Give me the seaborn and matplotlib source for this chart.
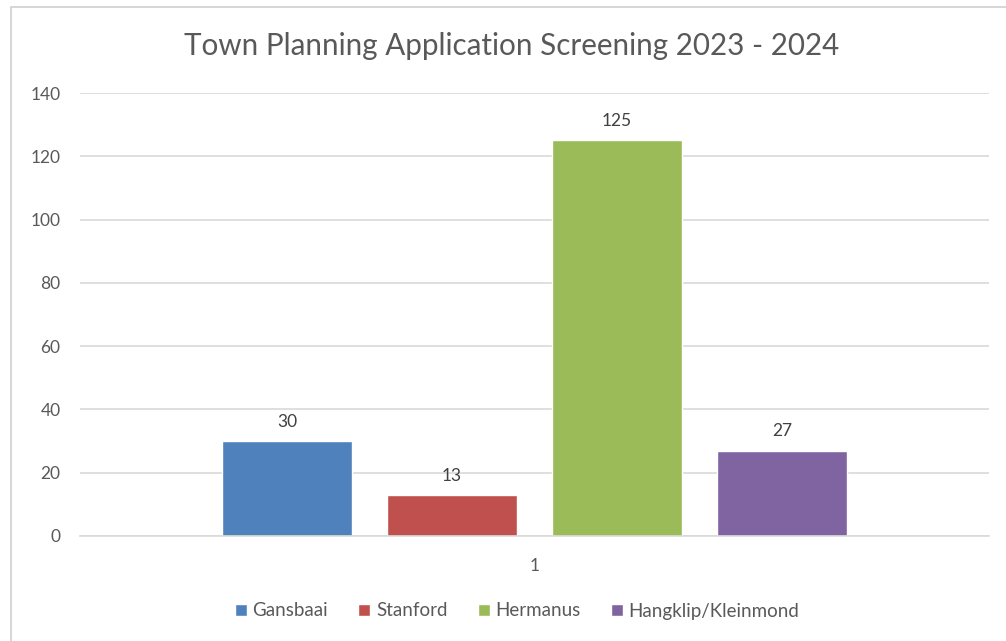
import pandas as pd
import matplotlib.pyplot as plt
import seaborn as sns
from matplotlib.patches import Rectangle

# chart values
towns = ["Gansbaai", "Stanford", "Hermanus", "Hangklip/Kleinmond"]
applications = [30, 13, 125, 27]
category = ["1", "1", "1", "1"]
colours = ["#4F81BD", "#C0504D", "#9BBB59", "#8064A2"]
y_ticks = [0, 20, 40, 60, 80, 100, 120, 140]

df = pd.DataFrame({"cat": category, "town": towns, "count": applications})

sns.set_style("white")
plt.rcParams['font.family'] = ['Lato', 'DejaVu Sans']

fig = plt.figure(figsize=(10.06, 6.41), dpi=100)
ax = fig.add_axes([80 / 1006, 1 - 536 / 641, 909 / 1006, 443 / 641])

sns.barplot(data=df, x="cat", y="count", hue="town", palette=colours,
            width=0.726, gap=0.212, ax=ax, legend=True, saturation=1)

# data labels
for cont in ax.containers:
    ax.bar_label(cont, padding=8, fontsize=12.5, color="#404040")

ax.set_xlim(-0.5, 0.5)
ax.set_ylim(0, 140)
ax.set_yticks(y_ticks)
ax.tick_params(axis='y', length=0, labelsize=12.5, labelcolor="#595959", pad=14)
ax.tick_params(axis='x', length=0, labelsize=12.5, labelcolor="#595959", pad=16)
ax.set_xlabel("")
ax.set_ylabel("")
ax.grid(axis='y', color="#d9d9d9", linewidth=1.2)
ax.set_axisbelow(True)
for s in ["top", "right", "left"]:
    ax.spines[s].set_visible(False)
ax.spines["bottom"].set_color("#d9d9d9")
ax.spines["bottom"].set_linewidth(1.2)

fig.text(512 / 1006, 1 - 46 / 641, "Town Planning Application Screening 2023 - 2024",
         ha="center", va="center", fontsize=21.3, color="#595959")

ax.legend(loc="center", bbox_to_anchor=(517 / 1006, 1 - 611 / 641),
          bbox_transform=fig.transFigure, ncol=4, frameon=False,
          fontsize=13.5, labelcolor="#595959", handlelength=0.65,
          handleheight=0.65, handletextpad=0.3, columnspacing=1.6)

# light chart border (cropped at right and bottom)
fig.patches.append(Rectangle((11 / 1006, -0.1), 1.2, 1 - 7 / 641 + 0.1,
                             transform=fig.transFigure, fill=False,
                             edgecolor="#d0d0d0", linewidth=1.2))

plt.savefig("out.png", dpi=100)
